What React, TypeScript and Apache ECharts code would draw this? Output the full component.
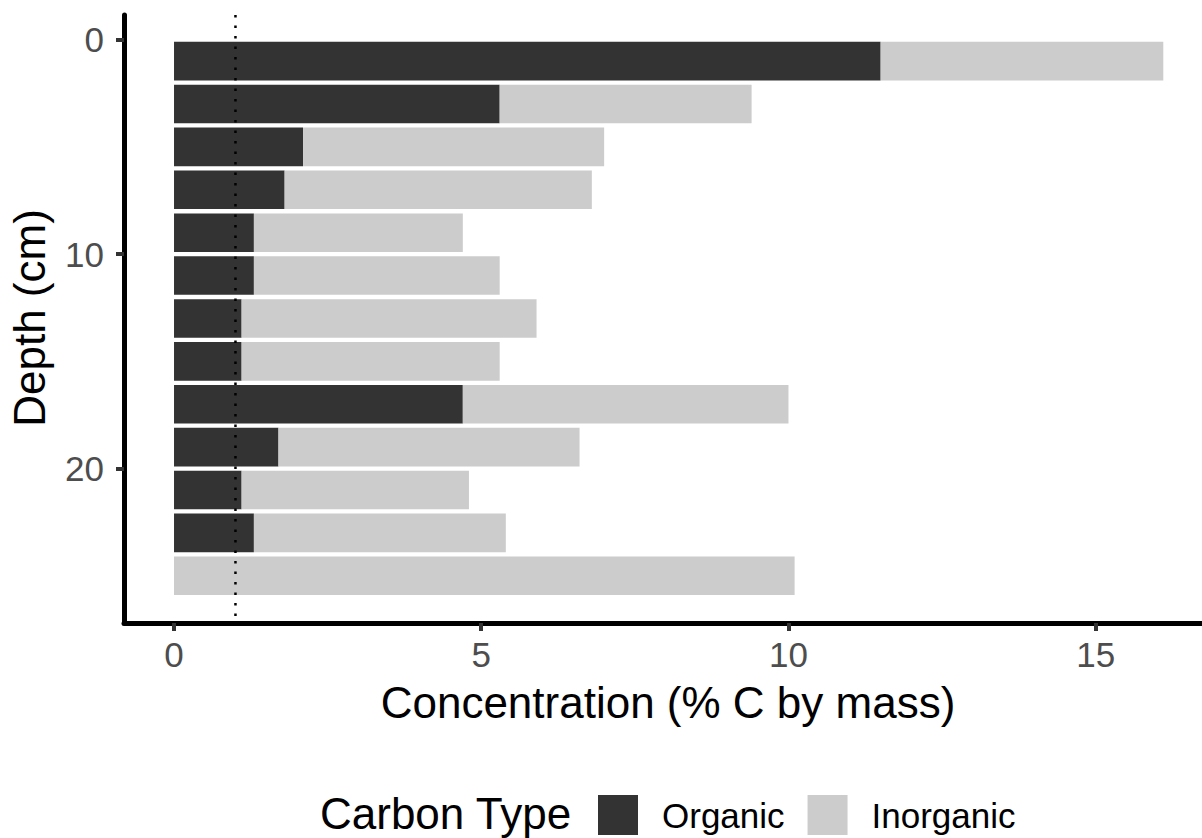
import React, { useEffect, useRef } from "react";
import * as echarts from "echarts";

// Core sample: depth of each slice (cm) and its carbon content (% C by mass)
const depths = [1, 3, 5, 7, 9, 11, 13, 15, 17, 19, 21, 23, 25];
const organic = [11.5, 5.3, 2.1, 1.8, 1.3, 1.3, 1.1, 1.1, 4.7, 1.7, 1.1, 1.3, 0];
const inorganic = [4.6, 4.1, 4.9, 5.0, 3.4, 4.0, 4.8, 4.2, 5.3, 4.9, 3.7, 4.1, 10.1];

const xTicks = [0, 5, 10, 15];
const yTicks = [0, 10, 20];
const referenceLine = 1;

const seriesNames = ["Organic", "Inorganic"];
const seriesColors = ["#333333", "#cccccc"];

const FONT = "'Liberation Sans', Arial, sans-serif";
const BAR_SPAN = 1.8; // cm of depth covered by each bar

function stackedRows(values: number[], offsets: number[]) {
  return depths.map((d, i) => [d, offsets[i], offsets[i] + values[i]]);
}

export default function App() {
  const ref = useRef<HTMLDivElement>(null);

  useEffect(() => {
    if (!ref.current) return;
    const chart = echarts.init(ref.current, undefined, { renderer: "svg" });

    const makeRender = (color: string) => (params: any, api: any) => {
      const depth = api.value(0);
      const start = api.value(1);
      const end = api.value(2);
      if (end <= start) return null;
      const p0 = api.coord([start, depth]);
      const p1 = api.coord([end, depth]);
      const h = api.size([0, BAR_SPAN])[1];
      return {
        type: "rect",
        shape: { x: p0[0], y: p0[1] - h / 2, width: p1[0] - p0[0], height: h },
        style: { fill: color },
      };
    };

    const zeros = depths.map(() => 0);

    chart.setOption({
      animation: false,
      backgroundColor: "#ffffff",
      grid: { left: 124, right: 0, top: 15, bottom: 215, containLabel: false },
      xAxis: {
        type: "value",
        min: -0.814,
        max: 16.73,
        axisLine: { show: true, onZero: false, lineStyle: { color: "#000000", width: 5 } },
        axisTick: { show: true, customValues: xTicks, length: 8, lineStyle: { color: "#333333", width: 4 } },
        axisLabel: {
          show: true,
          customValues: xTicks,
          margin: 14,
          color: "#4d4d4d",
          fontSize: 35,
          fontFamily: FONT,
        },
        splitLine: { show: false },
      },
      yAxis: {
        type: "value",
        inverse: true,
        min: -1.15,
        max: 27.2,
        axisLine: { show: true, onZero: false, lineStyle: { color: "#000000", width: 5 } },
        axisTick: { show: true, customValues: yTicks, length: 8, lineStyle: { color: "#333333", width: 4 } },
        axisLabel: {
          show: true,
          customValues: yTicks,
          margin: 20,
          color: "#4d4d4d",
          fontSize: 35,
          fontFamily: FONT,
        },
        splitLine: { show: false },
      },
      legend: {
        data: seriesNames,
        orient: "horizontal",
        left: 598,
        top: 795,
        itemWidth: 40,
        itemHeight: 40,
        itemGap: 23,
        icon: "rect",
        padding: 0,
        textStyle: { fontSize: 35, fontFamily: FONT, color: "#000000", padding: [0, 0, 0, 19] },
      },
      series: [
        {
          name: seriesNames[0],
          type: "custom",
          itemStyle: { color: seriesColors[0] },
          renderItem: makeRender(seriesColors[0]),
          encode: { x: [1, 2], y: 0 },
          data: stackedRows(organic, zeros),
          z: 2,
        },
        {
          name: seriesNames[1],
          type: "custom",
          itemStyle: { color: seriesColors[1] },
          renderItem: makeRender(seriesColors[1]),
          encode: { x: [1, 2], y: 0 },
          data: stackedRows(inorganic, organic),
          z: 2,
        },
        {
          name: "threshold",
          type: "line",
          data: [
            [referenceLine, -1.15],
            [referenceLine, 27.2],
          ],
          symbol: "none",
          silent: true,
          lineStyle: { color: "#000000", width: 2.5, type: [2.5, 8] },
          z: 5,
        },
      ],
      graphic: [
        {
          type: "text",
          x: 668,
          y: 702,
          style: {
            text: "Concentration (% C by mass)",
            font: `44px ${FONT}`,
            fill: "#000000",
            align: "center",
            verticalAlign: "middle",
          },
        },
        {
          type: "text",
          x: 29,
          y: 318,
          rotation: Math.PI / 2,
          style: {
            text: "Depth (cm)",
            font: `44px ${FONT}`,
            fill: "#000000",
            align: "center",
            verticalAlign: "middle",
          },
        },
        {
          type: "text",
          x: 320,
          y: 813,
          style: {
            text: "Carbon Type",
            font: `44px ${FONT}`,
            fill: "#000000",
            align: "left",
            verticalAlign: "middle",
          },
        },
      ],
    });

    return () => chart.dispose();
  }, []);

  return (
    <div
      ref={ref}
      style={{ position: "fixed", left: 0, top: 0, width: 1202, height: 838, background: "#ffffff" }}
    />
  );
}
